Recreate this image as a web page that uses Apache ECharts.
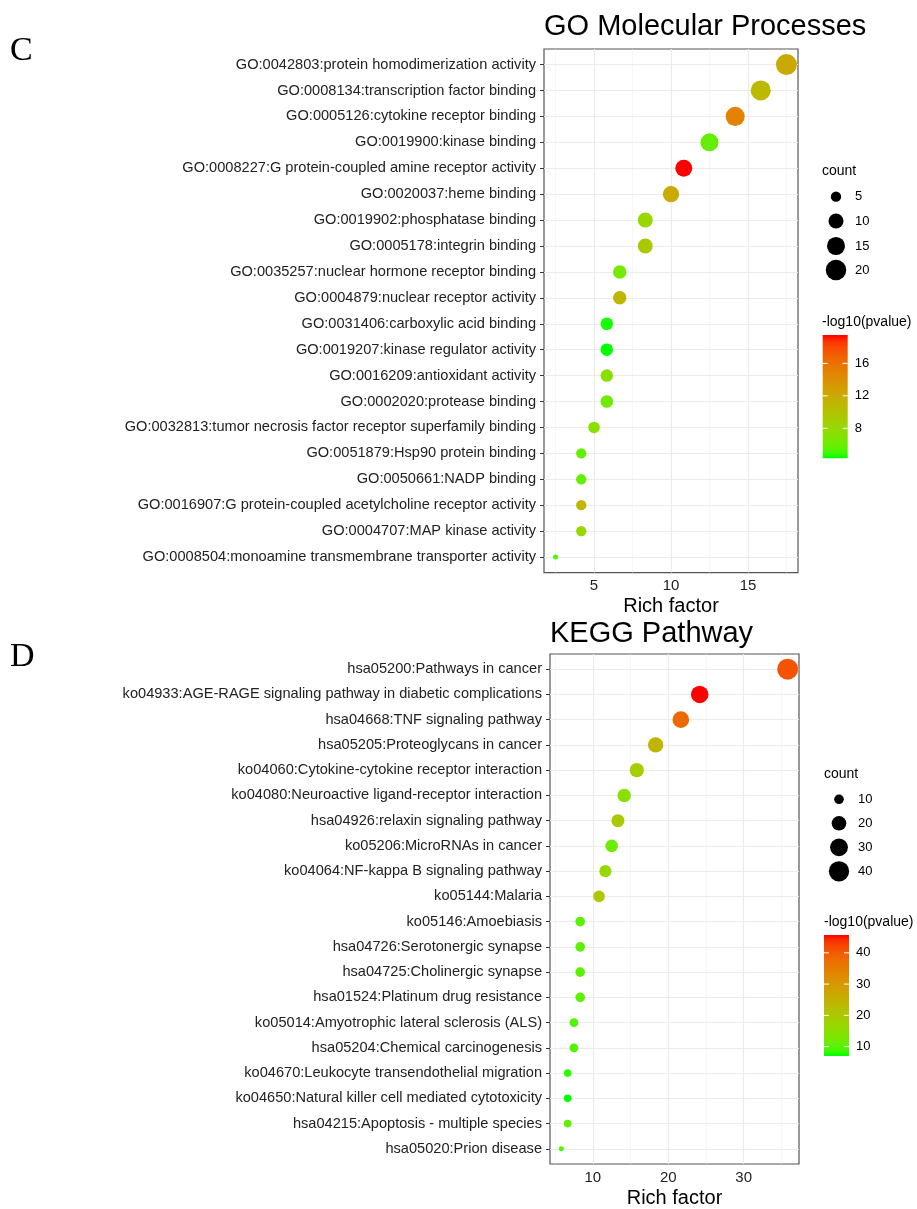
<!DOCTYPE html>
<html><head><meta charset="utf-8">
<script src="https://cdn.jsdelivr.net/npm/echarts@6/dist/echarts.min.js"></script>
<style>html,body{margin:0;padding:0;background:#fff}#c{width:917px;height:1209px}</style>
</head><body><div id="c"></div>
<script>
// ---------- DATA ----------
const goTerms = [
  'GO:0042803:protein homodimerization activity',
  'GO:0008134:transcription factor binding',
  'GO:0005126:cytokine receptor binding',
  'GO:0019900:kinase binding',
  'GO:0008227:G protein-coupled amine receptor activity',
  'GO:0020037:heme binding',
  'GO:0019902:phosphatase binding',
  'GO:0005178:integrin binding',
  'GO:0035257:nuclear hormone receptor binding',
  'GO:0004879:nuclear receptor activity',
  'GO:0031406:carboxylic acid binding',
  'GO:0019207:kinase regulator activity',
  'GO:0016209:antioxidant activity',
  'GO:0002020:protease binding',
  'GO:0032813:tumor necrosis factor receptor superfamily binding',
  'GO:0051879:Hsp90 protein binding',
  'GO:0050661:NADP binding',
  'GO:0016907:G protein-coupled acetylcholine receptor activity',
  'GO:0004707:MAP kinase activity',
  'GO:0008504:monoamine transmembrane transporter activity'
];
const goRich  = [17.5, 15.83, 14.17, 12.5, 10.83, 10.0, 8.33, 8.33, 6.67, 6.67, 5.83, 5.83, 5.83, 5.83, 5.0, 4.17, 4.17, 4.17, 4.17, 2.5];
const goCount = [21, 19, 17, 15, 13, 12, 10, 10, 8, 8, 7, 7, 7, 7, 6, 5, 5, 5, 5, 3];
const goPval  = [12.0, 10.8, 15.0, 5.8, 19.5, 12.0, 8.1, 9.3, 6.3, 11.0, 4.4, 4.3, 7.3, 6.1, 7.3, 5.8, 5.8, 11.1, 8.1, 5.2];
const goXTicks = [5, 10, 15];
const goXMinor = [2.5, 7.5, 12.5, 17.5];
const goCountTicks = [5, 10, 15, 20];
const goPTicks = [8, 12, 16];

const keggTerms = [
  'hsa05200:Pathways in cancer',
  'ko04933:AGE-RAGE signaling pathway in diabetic complications',
  'hsa04668:TNF signaling pathway',
  'hsa05205:Proteoglycans in cancer',
  'ko04060:Cytokine-cytokine receptor interaction',
  'ko04080:Neuroactive ligand-receptor interaction',
  'hsa04926:relaxin signaling pathway',
  'ko05206:MicroRNAs in cancer',
  'ko04064:NF-kappa B signaling pathway',
  'ko05144:Malaria',
  'ko05146:Amoebiasis',
  'hsa04726:Serotonergic synapse',
  'hsa04725:Cholinergic synapse',
  'hsa01524:Platinum drug resistance',
  'ko05014:Amyotrophic lateral sclerosis (ALS)',
  'hsa05204:Chemical carcinogenesis',
  'ko04670:Leukocyte transendothelial migration',
  'ko04650:Natural killer cell mediated cytotoxicity',
  'hsa04215:Apoptosis - multiple species',
  'hsa05020:Prion disease'
];
const keggRich  = [35.83, 24.17, 21.67, 18.33, 15.83, 14.17, 13.33, 12.5, 11.67, 10.83, 8.33, 8.33, 8.33, 8.33, 7.5, 7.5, 6.67, 6.67, 6.67, 5.83];
const keggCount = [43, 29, 26, 22, 19, 17, 16, 15, 14, 13, 10, 10, 10, 10, 9, 9, 8, 8, 8, 7];
const keggPval  = [40.7, 45.7, 38.0, 24.4, 18.6, 14.7, 19.8, 11.6, 16.7, 20.2, 10.1, 10.1, 10.1, 10.1, 9.3, 9.3, 7.8, 7.0, 10.1, 9.3];
const keggXTicks = [10, 20, 30];
const keggXMinor = [5, 15, 25, 35];
const keggCountTicks = [10, 20, 30, 40];
const keggPTicks = [10, 20, 30, 40];

// ---------- helpers ----------
const FONT = '"Liberation Sans", Arial, Helvetica, sans-serif';
function s2l(c){c/=255;return c<=0.04045?c/12.92:Math.pow((c+0.055)/1.055,2.4);}
function l2s(c){c=Math.max(0,Math.min(1,c));return c<=0.0031308?12.92*c:1.055*Math.pow(c,1/2.4)-0.055;}
function rgbToLab(rgb){const R=s2l(rgb[0]),G=s2l(rgb[1]),B=s2l(rgb[2]);
  const X=(0.4124*R+0.3576*G+0.1805*B)/0.95047,Y=0.2126*R+0.7152*G+0.0722*B,Z=(0.0193*R+0.1192*G+0.9505*B)/1.08883;
  const f=t=>t>0.008856?Math.cbrt(t):7.787*t+16/116;const fx=f(X),fy=f(Y),fz=f(Z);
  return [116*fy-16,500*(fx-fy),200*(fy-fz)];}
function labToRgb(lab){const fy=(lab[0]+16)/116,fx=fy+lab[1]/500,fz=fy-lab[2]/200;
  const fi=t=>t>0.206893?t*t*t:(t-16/116)/7.787;
  const X=fi(fx)*0.95047,Y=fi(fy),Z=fi(fz)*1.08883;
  const R=3.2406*X-1.5372*Y-0.4986*Z,G=-0.9689*X+1.8758*Y+0.0415*Z,B=0.0557*X-0.2040*Y+1.0570*Z;
  return [R,G,B].map(v=>Math.round(l2s(v)*255));}
const LOW=rgbToLab([0,255,0]), HIGH=rgbToLab([255,0,0]);
function grad(t){t=Math.max(0,Math.min(1,t));const c=labToRgb(LOW.map((v,i)=>v+(HIGH[i]-v)*t));return 'rgb('+c.join(',')+')';}
const minOf=a=>Math.min.apply(null,a), maxOf=a=>Math.max.apply(null,a);
function sizeFn(cmin,cmax){return c=>5+16*Math.sqrt((c-cmin)/(cmax-cmin));}

const panels = [
  {terms:goTerms,rich:goRich,count:goCount,pval:goPval,xt:goXTicks,xm:goXMinor,ct:goCountTicks,pt:goPTicks,
   title:'GO Molecular Processes', letter:'C', letterY:51, titleTop:12,
   grid:{left:544,top:49,width:254,height:523.6},
   leg:{titleX:822,countY:170.7,cx:836,cys:[196.7,221,246,270],labX:855,cbTitleY:321.7,barX:822.7,barY:335,barW:25,barH:123.3}},
  {terms:keggTerms,rich:keggRich,count:keggCount,pval:keggPval,xt:keggXTicks,xm:keggXMinor,ct:keggCountTicks,pt:keggPTicks,
   title:'KEGG Pathway', letter:'D', letterY:657, titleTop:619,
   grid:{left:550,top:654,width:249,height:514},
   leg:{titleX:824,countY:774,cx:839,cys:[799.3,823.3,847.3,871.3],labX:858,cbTitleY:922.3,barX:824,barY:935,barW:25,barH:121}}
];

const option = {animation:false, backgroundColor:'#fff', title:[], grid:[], xAxis:[], yAxis:[], series:[], graphic:[]};

panels.forEach((p,k)=>{
  const n=p.terms.length;
  const rmin=minOf(p.rich), rmax=maxOf(p.rich), ex=(rmax-rmin)*0.05;
  const cmin=minOf(p.count), cmax=maxOf(p.count), sz=sizeFn(cmin,cmax);
  const pmin=minOf(p.pval), pmax=maxOf(p.pval);
  const idx=p.terms.map((_,i)=>i);
  option.title.push({text:p.title,left:p.grid.left,top:p.titleTop,padding:0,
    textStyle:{fontSize:29,fontWeight:'normal',color:'#000',fontFamily:FONT}});
  option.grid.push(Object.assign({show:true,borderColor:'#555',borderWidth:1.2,backgroundColor:'#fff'},p.grid));
  option.xAxis.push({gridIndex:k,type:'value',min:rmin-ex,max:rmax+ex,
    axisLine:{show:false},
    axisTick:{show:true,length:4,customValues:p.xt,lineStyle:{color:'#333'}},
    axisLabel:{customValues:p.xt,color:'#222',fontSize:15,margin:6,fontFamily:FONT},
    splitLine:{show:false},
    name:'Rich factor',nameLocation:'middle',nameGap:24,
    nameTextStyle:{fontSize:20,color:'#000',fontFamily:FONT}});
  option.yAxis.push({gridIndex:k,type:'value',inverse:true,min:-0.6,max:n-1+0.6,
    axisLine:{show:false},
    axisTick:{show:true,length:4,customValues:idx,lineStyle:{color:'#333'}},
    axisLabel:{customValues:idx,formatter:v=>p.terms[Math.round(v)],color:'#222',fontSize:14.6,margin:8,fontFamily:FONT},
    splitLine:{show:false}});
  const ml=[];
  p.xm.forEach(v=>ml.push({xAxis:v,lineStyle:{color:'#F2F2F2',width:0.6,type:'solid'}}));
  p.xt.forEach(v=>ml.push({xAxis:v,lineStyle:{color:'#EBEBEB',width:1.1,type:'solid'}}));
  idx.forEach(v=>ml.push({yAxis:v,lineStyle:{color:'#EBEBEB',width:1.1,type:'solid'}}));
  option.series.push({type:'line',xAxisIndex:k,yAxisIndex:k,data:[],silent:true,z:1,
    markLine:{silent:true,z:1,symbol:['none','none'],label:{show:false},animation:false,data:ml}});
  option.series.push({type:'scatter',xAxisIndex:k,yAxisIndex:k,z:10,
    data:p.rich.map((r,i)=>[r,i,p.count[i],p.pval[i]]),
    symbolSize:d=>sz(d[2]),
    itemStyle:{opacity:1,color:q=>grad((q.data[3]-pmin)/(pmax-pmin))}});
  // panel letter
  option.graphic.push({type:'text',silent:true,style:{text:p.letter,x:10,y:p.letterY,fill:'#000',
    font:'34px "Liberation Serif", "Times New Roman", serif',textAlign:'left',textVerticalAlign:'middle'}});
  // size legend
  const L=p.leg;
  option.graphic.push({type:'text',silent:true,style:{text:'count',x:L.titleX,y:L.countY,fill:'#000',
    font:'14px '+FONT,textAlign:'left',textVerticalAlign:'middle'}});
  p.ct.forEach((c,i)=>{
    option.graphic.push({type:'circle',silent:true,shape:{cx:L.cx,cy:L.cys[i],r:sz(c)/2},style:{fill:'#000'}});
    option.graphic.push({type:'text',silent:true,style:{text:String(c),x:L.labX,y:L.cys[i],fill:'#000',
      font:'13px '+FONT,textAlign:'left',textVerticalAlign:'middle'}});
  });
  // colorbar
  option.graphic.push({type:'text',silent:true,style:{text:'-log10(pvalue)',x:L.titleX,y:L.cbTitleY,fill:'#000',
    font:'14px '+FONT,textAlign:'left',textVerticalAlign:'middle'}});
  const stops=[];for(let i=0;i<=20;i++){stops.push({offset:i/20,color:grad(i/20)});}
  option.graphic.push({type:'rect',silent:true,shape:{x:L.barX,y:L.barY,width:L.barW,height:L.barH},
    style:{fill:{type:'linear',x:0,y:1,x2:0,y2:0,colorStops:stops}}});
  p.pt.forEach(v=>{
    const y=L.barY+L.barH-(v-pmin)/(pmax-pmin)*L.barH;
    option.graphic.push({type:'line',silent:true,shape:{x1:L.barX,y1:y,x2:L.barX+5,y2:y},style:{stroke:'#fff',lineWidth:1}});
    option.graphic.push({type:'line',silent:true,shape:{x1:L.barX+L.barW-5,y1:y,x2:L.barX+L.barW,y2:y},style:{stroke:'#fff',lineWidth:1}});
    option.graphic.push({type:'text',silent:true,style:{text:String(v),x:L.barX+L.barW+7,y:y,fill:'#000',
      font:'13px '+FONT,textAlign:'left',textVerticalAlign:'middle'}});
  });
});

const chart = echarts.init(document.getElementById('c'), null, {renderer:'canvas'});
chart.setOption(option);
</script>
</body></html>
